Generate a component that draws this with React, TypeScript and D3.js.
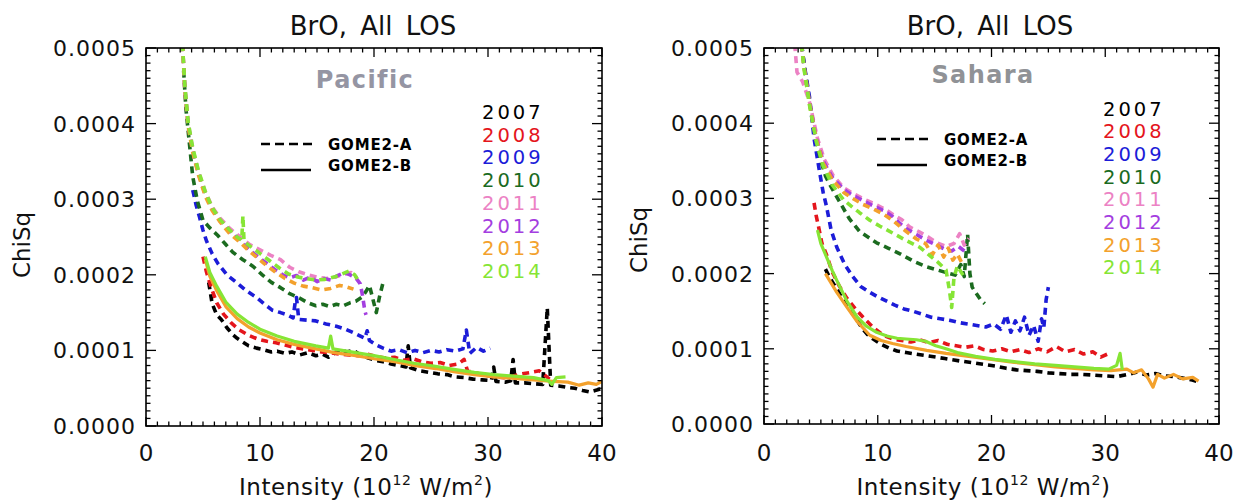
import React from 'react';
import * as d3 from 'd3';

type Pt = [number, number];

// ---------- labels / categories ----------
const years = ['2007', '2008', '2009', '2010', '2011', '2012', '2013', '2014'];
const yearColors = ['#000000', '#e4151c', '#1c1cd8', '#1b6b1f', '#ec82c4', '#a43ee0', '#f3a12c', '#86e535'];
const instruments = ['GOME2-A', 'GOME2-B'];
const xTicks = [0, 10, 20, 30, 40];
const yTicks = [0, 0.0001, 0.0002, 0.0003, 0.0004, 0.0005];
const yTickLabels = ['0.0000', '0.0001', '0.0002', '0.0003', '0.0004', '0.0005'];
const panelTitle = 'BrO, All LOS';
const regionNames = ['Pacific', 'Sahara'];

// ---------- Pacific (GOME2-A dashed, GOME2-B solid) ----------
const pacA2007: Pt[] = [[5.5,0.000190],[5.8,0.000162],[6.2,0.000147],[6.6,0.000141],[7.1,0.000130],[7.6,0.000121],[8.0,0.000116],[8.5,0.000111],[9.0,0.000106],[9.7,0.000103],[10.3,0.000101],[11.0,0.000098],[11.5,0.000099],[12.2,0.000096],[12.8,0.000098],[13.5,0.000094],[14.2,0.000097],[14.9,0.000093],[15.5,0.000095],[16.0,0.000091],[16.6,0.000097],[17.1,0.000101],[17.6,0.000098],[18.2,0.000100],[18.8,0.000094],[19.5,0.000090],[20.1,0.000087],[20.8,0.000085],[21.5,0.000082],[22.2,0.000080],[22.8,0.000078],[23.0,0.000106],[23.2,0.000077],[24.0,0.000073],[24.8,0.000071],[25.6,0.000069],[26.4,0.000068],[27.1,0.000065],[27.9,0.000064],[28.7,0.000062],[29.5,0.000061],[30.3,0.000060],[30.5,0.000078],[30.7,0.000059],[31.5,0.000058],[32.0,0.000060],[32.2,0.000088],[32.4,0.000057],[33.2,0.000057],[34.0,0.000056],[34.8,0.000055],[35.2,0.000156],[35.5,0.000054],[36.2,0.000053],[37.0,0.000051],[37.6,0.000050],[38.3,0.000047],[38.9,0.000045],[39.4,0.000047],[39.9,0.000049]];
const pacA2008: Pt[] = [[5.0,0.000224],[5.3,0.000204],[5.7,0.000184],[6.2,0.000163],[6.8,0.000148],[7.5,0.000136],[8.2,0.000127],[9.0,0.000120],[9.8,0.000115],[10.6,0.000112],[11.4,0.000110],[12.2,0.000107],[13.0,0.000104],[13.8,0.000102],[14.6,0.000100],[15.4,0.000098],[16.2,0.000097],[17.0,0.000095],[17.8,0.000094],[18.6,0.000093],[19.4,0.000095],[20.2,0.000092],[21.0,0.000090],[21.8,0.000091],[22.6,0.000087],[23.4,0.000089],[24.2,0.000085],[25.0,0.000083],[25.8,0.000084],[26.6,0.000080],[27.4,0.000082],[27.9,0.000088],[28.2,0.000073],[29.0,0.000070],[29.8,0.000067],[30.6,0.000065],[31.4,0.000064],[32.2,0.000066],[33.0,0.000069],[33.8,0.000071],[34.5,0.000073],[35.0,0.000067],[35.4,0.000062]];
const pacA2009: Pt[] = [[4.1,0.000312],[4.4,0.000292],[4.7,0.000276],[5.0,0.000259],[5.3,0.000245],[5.8,0.000228],[6.3,0.000215],[7.1,0.000200],[8.0,0.000189],[8.8,0.000179],[9.7,0.000170],[10.4,0.000161],[11.1,0.000153],[11.8,0.000150],[12.4,0.000147],[12.9,0.000143],[13.1,0.000165],[13.2,0.000170],[13.4,0.000141],[14.1,0.000140],[14.9,0.000139],[15.8,0.000135],[16.7,0.000132],[17.5,0.000128],[18.4,0.000122],[19.2,0.000116],[19.4,0.000126],[19.6,0.000113],[20.1,0.000108],[20.8,0.000103],[21.5,0.000099],[22.2,0.000101],[22.9,0.000097],[23.6,0.000100],[24.3,0.000097],[25.0,0.000100],[25.7,0.000098],[26.4,0.000101],[27.1,0.000099],[27.8,0.000102],[28.1,0.000127],[28.4,0.000096],[29.0,0.000104],[29.6,0.000099],[30.2,0.000103]];
const pacA2010: Pt[] = [[3.3,0.000470],[3.5,0.000420],[3.8,0.000375],[4.1,0.000330],[4.5,0.000298],[5.0,0.000272],[5.6,0.000262],[6.3,0.000252],[7.0,0.000240],[7.6,0.000230],[8.5,0.000220],[9.4,0.000211],[10.2,0.000200],[11.0,0.000190],[11.8,0.000183],[12.6,0.000175],[13.5,0.000169],[14.2,0.000163],[14.9,0.000159],[15.5,0.000161],[16.1,0.000158],[16.7,0.000161],[17.3,0.000159],[17.9,0.000163],[18.4,0.000165],[18.9,0.000170],[19.3,0.000178],[19.6,0.000186],[19.9,0.000168],[20.2,0.000150],[20.5,0.000172],[20.8,0.000190],[21.0,0.000193]];
const pacA2011: Pt[] = [[3.2,0.000505],[3.4,0.000450],[3.7,0.000400],[4.1,0.000366],[4.6,0.000336],[5.2,0.000310],[5.8,0.000290],[6.5,0.000275],[7.3,0.000262],[8.1,0.000252],[9.1,0.000240],[10.0,0.000233],[10.9,0.000226],[11.8,0.000220],[12.6,0.000210],[13.4,0.000204],[14.2,0.000200],[15.0,0.000197],[15.8,0.000195],[16.6,0.000197],[17.4,0.000201],[18.0,0.000203],[18.5,0.000196]];
const pacA2012: Pt[] = [[3.2,0.000505],[3.4,0.000448],[3.7,0.000398],[4.1,0.000364],[4.6,0.000334],[5.2,0.000306],[5.8,0.000287],[6.5,0.000272],[7.3,0.000258],[8.1,0.000248],[9.0,0.000234],[9.8,0.000224],[10.6,0.000215],[11.3,0.000207],[12.0,0.000200],[12.6,0.000196],[13.2,0.000199],[13.8,0.000193],[14.4,0.000197],[15.0,0.000191],[15.6,0.000195],[16.2,0.000193],[16.8,0.000199],[17.4,0.000203],[17.9,0.000200],[18.4,0.000196],[18.8,0.000188],[19.0,0.000172],[19.2,0.000152],[19.3,0.000147]];
const pacA2013: Pt[] = [[3.2,0.000505],[3.4,0.000446],[3.7,0.000396],[4.1,0.000362],[4.6,0.000332],[5.2,0.000304],[5.8,0.000285],[6.5,0.000270],[7.3,0.000255],[8.1,0.000245],[9.0,0.000232],[9.8,0.000222],[10.6,0.000212],[11.4,0.000203],[12.2,0.000195],[13.0,0.000189],[13.8,0.000185],[14.6,0.000183],[15.4,0.000180],[16.2,0.000182],[17.0,0.000186],[17.6,0.000184],[18.2,0.000181]];
const pacA2014: Pt[] = [[3.2,0.000505],[3.4,0.000452],[3.7,0.000402],[4.1,0.000368],[4.6,0.000338],[5.2,0.000310],[5.8,0.000289],[6.5,0.000273],[7.3,0.000260],[8.0,0.000250],[8.4,0.000246],[8.5,0.000278],[8.6,0.000244],[9.3,0.000236],[10.1,0.000227],[10.9,0.000218],[11.7,0.000209],[12.5,0.000201],[13.3,0.000197],[14.1,0.000195],[14.9,0.000193],[15.7,0.000194],[16.5,0.000197],[17.2,0.000201],[17.8,0.000205],[18.3,0.000200],[18.6,0.000193]];
const pacB2013: Pt[] = [[5.2,0.000220],[5.6,0.000198],[6.2,0.000179],[7.0,0.000158],[8.0,0.000142],[9.0,0.000131],[10.0,0.000123],[11.5,0.000114],[13.0,0.000108],[14.9,0.000102],[16.5,0.000097],[18.4,0.000093],[20.0,0.000089],[21.8,0.000085],[23.5,0.000080],[25.4,0.000076],[27.0,0.000072],[28.8,0.000068],[30.5,0.000065],[32.3,0.000063],[34.0,0.000061],[35.7,0.000059],[37.0,0.000058],[38.0,0.000054],[38.8,0.000057],[39.5,0.000055],[40.0,0.000059]];
const pacB2014: Pt[] = [[5.2,0.000224],[5.6,0.000203],[6.2,0.000185],[7.0,0.000164],[8.0,0.000148],[9.0,0.000137],[10.0,0.000128],[11.5,0.000119],[13.0,0.000112],[14.9,0.000106],[16.0,0.000103],[16.2,0.000119],[16.4,0.000102],[18.4,0.000097],[20.0,0.000093],[21.8,0.000088],[23.5,0.000083],[25.4,0.000079],[27.0,0.000075],[28.8,0.000071],[30.5,0.000068],[32.3,0.000066],[34.0,0.000064],[35.3,0.000060],[35.6,0.000055],[36.0,0.000064],[36.8,0.000065]];

// ---------- Sahara ----------
const sahA2007: Pt[] = [[5.4,0.000206],[5.8,0.000194],[6.3,0.000182],[6.9,0.000167],[7.5,0.000153],[8.1,0.000140],[8.6,0.000128],[9.1,0.000119],[9.6,0.000113],[10.3,0.000106],[11.0,0.000101],[11.7,0.000097],[12.5,0.000095],[13.3,0.000093],[14.2,0.000091],[15.1,0.000089],[15.9,0.000087],[16.7,0.000085],[17.6,0.000083],[18.6,0.000081],[19.5,0.000079],[20.4,0.000077],[21.3,0.000074],[22.2,0.000072],[23.1,0.000071],[24.0,0.000070],[25.0,0.000068],[26.0,0.000067],[27.0,0.000066],[28.0,0.000066],[29.0,0.000065],[30.0,0.000064],[31.0,0.000063],[32.0,0.000066],[32.8,0.000069],[33.6,0.000065],[34.4,0.000067],[35.2,0.000064],[36.0,0.000063],[36.8,0.000061],[37.5,0.000059],[38.0,0.000057]];
const sahA2008: Pt[] = [[4.4,0.000294],[4.6,0.000276],[4.8,0.000262],[5.1,0.000240],[5.5,0.000225],[6.0,0.000202],[6.6,0.000184],[7.3,0.000167],[8.1,0.000152],[8.9,0.000139],[9.7,0.000127],[10.5,0.000118],[11.3,0.000113],[12.1,0.000111],[12.9,0.000109],[13.7,0.000112],[14.5,0.000108],[15.3,0.000111],[16.1,0.000106],[16.9,0.000104],[17.7,0.000102],[18.5,0.000104],[19.3,0.000099],[20.1,0.000097],[20.9,0.000100],[21.7,0.000096],[22.5,0.000099],[23.3,0.000095],[24.1,0.000100],[24.9,0.000096],[25.7,0.000103],[26.5,0.000096],[27.3,0.000099],[28.1,0.000093],[28.9,0.000096],[29.6,0.000089],[30.2,0.000093]];
const sahA2009: Pt[] = [[3.3,0.000505],[3.6,0.000472],[4.0,0.000435],[4.4,0.000380],[4.9,0.000334],[5.2,0.000308],[5.5,0.000289],[5.9,0.000258],[6.4,0.000235],[7.1,0.000212],[7.8,0.000196],[8.5,0.000183],[9.2,0.000176],[9.9,0.000170],[10.7,0.000164],[11.5,0.000158],[12.3,0.000153],[13.1,0.000150],[13.9,0.000146],[14.7,0.000142],[15.5,0.000140],[16.3,0.000138],[17.1,0.000135],[17.9,0.000133],[18.7,0.000131],[19.5,0.000129],[20.2,0.000133],[20.8,0.000126],[21.3,0.000145],[21.7,0.000122],[22.1,0.000137],[22.5,0.000124],[22.9,0.000142],[23.3,0.000118],[23.7,0.000131],[24.1,0.000110],[24.4,0.000140],[24.6,0.000128],[24.8,0.000165],[25.0,0.000182]];
const sahA2010: Pt[] = [[3.3,0.000505],[3.6,0.000470],[4.0,0.000428],[4.5,0.000385],[5.0,0.000350],[5.4,0.000330],[5.8,0.000318],[6.7,0.000294],[7.5,0.000273],[8.4,0.000256],[9.2,0.000248],[9.9,0.000241],[10.9,0.000234],[12.0,0.000226],[13.2,0.000216],[14.3,0.000209],[15.2,0.000205],[16.1,0.000201],[16.8,0.000198],[17.3,0.000212],[17.6,0.000196],[17.9,0.000252],[18.1,0.000200],[18.3,0.000182],[18.6,0.000175],[19.0,0.000166],[19.4,0.000160]];
const sahA2011: Pt[] = [[2.7,0.000505],[2.9,0.000468],[3.4,0.000455],[4.0,0.000428],[4.7,0.000380],[5.3,0.000352],[6.1,0.000330],[7.0,0.000314],[7.9,0.000306],[8.8,0.000299],[9.7,0.000293],[10.6,0.000286],[11.4,0.000278],[12.1,0.000272],[12.8,0.000262],[13.6,0.000256],[14.4,0.000249],[15.2,0.000241],[16.0,0.000236],[16.7,0.000240],[17.2,0.000253],[17.6,0.000238],[18.0,0.000247]];
const sahA2012: Pt[] = [[3.3,0.000505],[3.5,0.000478],[4.0,0.000428],[4.6,0.000380],[5.2,0.000350],[6.0,0.000328],[7.0,0.000312],[7.8,0.000304],[8.7,0.000297],[9.6,0.000290],[10.5,0.000284],[11.3,0.000276],[12.0,0.000266],[12.6,0.000259],[13.4,0.000252],[14.2,0.000245],[15.0,0.000239],[15.8,0.000233],[16.5,0.000230],[17.1,0.000236],[17.7,0.000229]];
const sahA2013: Pt[] = [[3.3,0.000505],[3.5,0.000476],[4.0,0.000426],[4.6,0.000378],[5.2,0.000347],[6.0,0.000325],[7.0,0.000308],[7.8,0.000300],[8.7,0.000292],[9.6,0.000286],[10.5,0.000279],[11.3,0.000271],[12.0,0.000262],[12.6,0.000255],[13.4,0.000246],[14.2,0.000240],[14.8,0.000225],[15.3,0.000238],[15.8,0.000222],[16.2,0.000234],[16.6,0.000218],[17.0,0.000226],[17.4,0.000214]];
const sahA2014: Pt[] = [[3.3,0.000505],[3.5,0.000474],[4.0,0.000424],[4.6,0.000375],[5.2,0.000343],[6.0,0.000318],[7.0,0.000298],[7.8,0.000288],[8.4,0.000281],[9.3,0.000271],[10.2,0.000263],[11.3,0.000254],[12.5,0.000244],[13.7,0.000235],[14.5,0.000225],[15.3,0.000215],[16.0,0.000205],[16.3,0.000178],[16.5,0.000155],[16.7,0.000195],[17.0,0.000210],[17.5,0.000198]];
const sahB2013: Pt[] = [[5.4,0.000200],[5.8,0.000190],[6.4,0.000175],[7.3,0.000155],[8.2,0.000136],[9.3,0.000118],[10.3,0.000111],[11.3,0.000107],[12.5,0.000103],[14.3,0.000098],[16.0,0.000094],[17.5,0.000091],[19.0,0.000088],[20.5,0.000085],[22.0,0.000082],[23.8,0.000079],[25.6,0.000076],[27.3,0.000074],[29.0,0.000072],[30.5,0.000071],[31.9,0.000073],[32.5,0.000068],[33.2,0.000072],[33.8,0.000060],[34.2,0.000049],[34.6,0.000066],[35.2,0.000061],[36.0,0.000066],[36.8,0.000060],[37.7,0.000062],[38.2,0.000057]];
const sahB2014: Pt[] = [[4.7,0.000258],[5.0,0.000240],[5.5,0.000222],[6.0,0.000204],[6.4,0.000191],[7.3,0.000163],[8.2,0.000142],[9.0,0.000130],[9.9,0.000122],[10.8,0.000117],[11.7,0.000114],[12.5,0.000113],[13.4,0.000112],[14.2,0.000110],[15.1,0.000104],[16.0,0.000100],[17.0,0.000095],[18.6,0.000090],[20.3,0.000086],[22.0,0.000083],[23.8,0.000080],[25.6,0.000078],[27.3,0.000076],[29.0,0.000074],[30.3,0.000073],[31.0,0.000078],[31.3,0.000094],[31.5,0.000072]];

type Series = { year: string; inst: string; pts: Pt[] };

const pacificSeries: Series[] = [
  { year: '2007', inst: 'GOME2-A', pts: pacA2007 },
  { year: '2008', inst: 'GOME2-A', pts: pacA2008 },
  { year: '2009', inst: 'GOME2-A', pts: pacA2009 },
  { year: '2010', inst: 'GOME2-A', pts: pacA2010 },
  { year: '2011', inst: 'GOME2-A', pts: pacA2011 },
  { year: '2012', inst: 'GOME2-A', pts: pacA2012 },
  { year: '2013', inst: 'GOME2-A', pts: pacA2013 },
  { year: '2014', inst: 'GOME2-A', pts: pacA2014 },
  { year: '2013', inst: 'GOME2-B', pts: pacB2013 },
  { year: '2014', inst: 'GOME2-B', pts: pacB2014 },
];
const saharaSeries: Series[] = [
  { year: '2007', inst: 'GOME2-A', pts: sahA2007 },
  { year: '2008', inst: 'GOME2-A', pts: sahA2008 },
  { year: '2009', inst: 'GOME2-A', pts: sahA2009 },
  { year: '2010', inst: 'GOME2-A', pts: sahA2010 },
  { year: '2011', inst: 'GOME2-A', pts: sahA2011 },
  { year: '2012', inst: 'GOME2-A', pts: sahA2012 },
  { year: '2013', inst: 'GOME2-A', pts: sahA2013 },
  { year: '2014', inst: 'GOME2-A', pts: sahA2014 },
  { year: '2013', inst: 'GOME2-B', pts: sahB2013 },
  { year: '2014', inst: 'GOME2-B', pts: sahB2014 },
];

const FONT = '"DejaVu Sans", "Liberation Sans", Arial, sans-serif';

type Layout = {
  id: string; x0: number; x1: number; y0: number; y1: number;
  titleX: number; regionX: number; regionY: number; regionColor: string;
  yearX: number; yearY0: number; legX: number; legY0: number;
  ylabX: number; ylabY: number;
};

const layouts: Layout[] = [
  { id: 'pac', x0: 146, x1: 602, y0: 48, y1: 426, titleX: 373, regionX: 365, regionY: 88, regionColor: '#9595a3',
    yearX: 482, yearY0: 119, legX: 261, legY0: 144, ylabX: 30, ylabY: 245 },
  { id: 'sah', x0: 764, x1: 1219, y0: 48, y1: 424, titleX: 990, regionX: 983, regionY: 83, regionColor: '#909296',
    yearX: 1103, yearY0: 115.5, legX: 877, legY0: 139, ylabX: 647, ylabY: 240 },
];

function Panel({ L, series, region }: { L: Layout; series: Series[]; region: string }) {
  const x = d3.scaleLinear().domain([0, 40]).range([L.x0, L.x1]);
  const y = d3.scaleLinear().domain([0, 0.0005]).range([L.y1, L.y0]);
  const line = d3.line<Pt>().x(d => x(d[0])).y(d => y(d[1]));
  const minorX = d3.range(0, 40.001, 1);
  const minorY = d3.range(0, 0.000501, 0.00001);
  const majLen = 9, minLen = 4.5;
  const clipId = `clip-${L.id}`;
  return (
    <g>
      <defs>
        <clipPath id={clipId}>
          <rect x={L.x0} y={L.y0} width={L.x1 - L.x0} height={L.y1 - L.y0} />
        </clipPath>
      </defs>
      <text x={L.titleX} y={35} textAnchor="middle" fontFamily={FONT} fontSize={26} wordSpacing={5} fill="#111">{panelTitle}</text>
      <g clipPath={`url(#${clipId})`}>
        {series.map((s, i) => {
          const ci = years.indexOf(s.year);
          const dashed = s.inst === instruments[0];
          return (
            <path key={i} d={line(s.pts) || ''} fill="none" stroke={yearColors[ci]}
              strokeWidth={dashed ? 3.6 : 3.2} strokeDasharray={dashed ? '7,5' : undefined}
              strokeLinejoin="round" />
          );
        })}
      </g>
      {/* frame */}
      <rect x={L.x0} y={L.y0} width={L.x1 - L.x0} height={L.y1 - L.y0} fill="none" stroke="#000" strokeWidth={1.6} />
      {minorX.map((v, i) => {
        const len = xTicks.includes(Math.round(v)) ? majLen : minLen;
        return (
          <g key={'xt' + i} stroke="#000" strokeWidth={1.3}>
            <line x1={x(v)} x2={x(v)} y1={L.y1} y2={L.y1 - len} />
            <line x1={x(v)} x2={x(v)} y1={L.y0} y2={L.y0 + len} />
          </g>
        );
      })}
      {minorY.map((v, i) => {
        const major = Math.abs(v / 0.0001 - Math.round(v / 0.0001)) < 1e-6;
        const len = major ? majLen + 1 : minLen;
        return (
          <g key={'yt' + i} stroke="#000" strokeWidth={1.3}>
            <line x1={L.x0} x2={L.x0 + len} y1={y(v)} y2={y(v)} />
            <line x1={L.x1} x2={L.x1 - len} y1={y(v)} y2={y(v)} />
          </g>
        );
      })}
      {xTicks.map((v, i) => (
        <text key={'xl' + i} x={x(v)} y={461} textAnchor="middle" fontFamily={FONT} fontSize={23} fill="#111">{v}</text>
      ))}
      {yTicks.map((v, i) => (
        <text key={'yl' + i} x={L.x0 - 10} y={y(v)} dy="0.36em" textAnchor="end" fontFamily={FONT} fontSize={22} letterSpacing={1} fill="#111">{yTickLabels[i]}</text>
      ))}
      <text transform={`translate(${L.ylabX},${L.ylabY}) rotate(-90)`} textAnchor="middle" fontFamily={FONT} fontSize={23} fill="#111">ChiSq</text>
      <text x={(L.x0 + L.x1) / 2 - 8} y={495} textAnchor="middle" fontFamily={FONT} fontSize={23} letterSpacing={0.6} fill="#111">
        Intensity (10<tspan fontSize={14} dy={-10}>12</tspan><tspan dy={10}> W/m</tspan><tspan fontSize={14} dy={-10}>2</tspan><tspan dy={10}>)</tspan>
      </text>
      <text x={L.regionX} y={L.regionY} textAnchor="middle" fontFamily={FONT} fontWeight="bold" fontSize={24} letterSpacing={1.4} fill={L.regionColor}>{region}</text>
      {years.map((yr, i) => (
        <text key={'yr' + i} x={L.yearX} y={L.yearY0 + i * 22.7} fontFamily={FONT} fontSize={19.5} letterSpacing={3} fill={yearColors[i]}>{yr}</text>
      ))}
      {/* instrument legend */}
      <line x1={L.legX} x2={L.legX + 51} y1={L.legY0} y2={L.legY0} stroke="#000" strokeWidth={2.4} strokeDasharray="9,5" />
      <text x={L.legX + 67} y={L.legY0 + 5.5} fontFamily={FONT} fontWeight="bold" fontSize={15} letterSpacing={0.8} fill="#000">{instruments[0]}</text>
      <line x1={L.legX} x2={L.legX + 50} y1={L.legY0 + 26} y2={L.legY0 + 26} stroke="#000" strokeWidth={2.4} />
      <text x={L.legX + 67} y={L.legY0 + 26.5} fontFamily={FONT} fontWeight="bold" fontSize={15} letterSpacing={0.8} fill="#000">{instruments[1]}</text>
    </g>
  );
}

export default function App() {
  return (
    <svg width={1243} height={501} style={{ position: 'absolute', left: 0, top: 0, background: '#fff' }}>
      <rect x={0} y={0} width={1243} height={501} fill="#fff" />
      <Panel L={layouts[0]} series={pacificSeries} region={regionNames[0]} />
      <Panel L={layouts[1]} series={saharaSeries} region={regionNames[1]} />
    </svg>
  );
}
